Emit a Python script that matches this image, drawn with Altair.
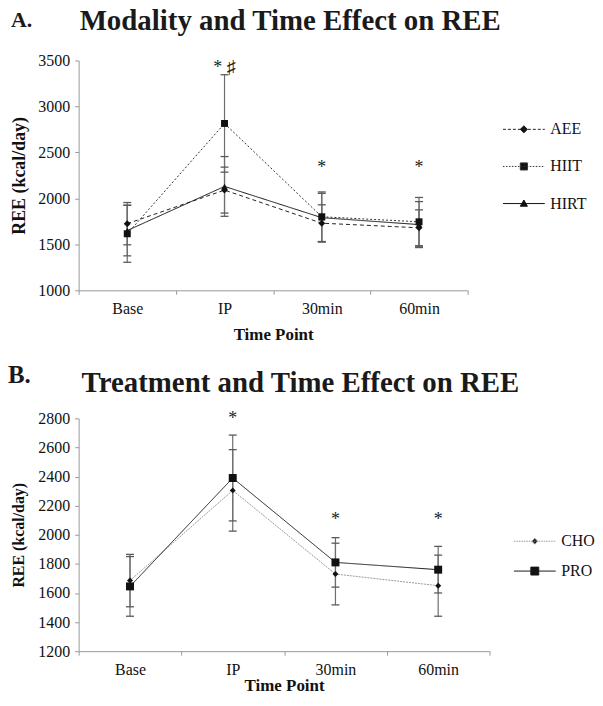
import altair as alt
import pandas as pd

# ---------------- data ----------------
times = ["Base", "IP", "30min", "60min"]

a_series = ["AEE", "HIIT", "HIRT"]
a_aee = [1725, 2090, 1730, 1680]
a_aee_sd = [230, 250, 200, 195]
a_hiit = [1615, 2815, 1800, 1745]
a_hiit_sd = [310, 530, 270, 265]
a_hirt = [1650, 2130, 1790, 1715]
a_hirt_sd = [275, 325, 265, 250]

a_sig_times = ["IP", "30min", "60min"]
a_sig_text = ["* \u266F", "*", "*"]
a_sig_y = [3359, 2277, 2277]

b_series = ["CHO", "PRO"]
b_cho = [1685, 2305, 1730, 1650]
b_cho_sd = [180, 280, 212, 210]
b_pro = [1645, 2390, 1810, 1760]
b_pro_sd = [205, 295, 170, 160]

b_sig_times = ["IP", "30min", "60min"]
b_sig_text = ["*", "*", "*"]
b_sig_y = [2764, 2066, 2066]

a_yticks = [1000, 1500, 2000, 2500, 3000, 3500]
b_yticks = [1200, 1400, 1600, 1800, 2000, 2200, 2400, 2600, 2800]

SERIF = "Liberation Serif"


def long_df(series, means, sds):
    rows = []
    for s, m, sd in zip(series, means, sds):
        for t, v, e in zip(times, m, sd):
            rows.append({"series": s, "time": t, "mean": v, "lo": v - e, "hi": v + e})
    return pd.DataFrame(rows)


df_a = long_df(a_series, [a_aee, a_hiit, a_hirt], [a_aee_sd, a_hiit_sd, a_hirt_sd])
df_b = long_df(b_series, [b_cho, b_pro], [b_cho_sd, b_pro_sd])
sig_a = pd.DataFrame({"time": a_sig_times, "txt": a_sig_text, "y": a_sig_y})
sig_b = pd.DataFrame({"time": b_sig_times, "txt": b_sig_text, "y": b_sig_y})


# ---------------- legend symbol paths (line sample + marker) ----------------
R = 21.0  # half width of legend symbol in px (symbolSize = (2R)^2)


def line_path(dash, gap):
    if dash is None:
        return "M-1,0L1,0"
    segs = []
    pos = -R
    while pos < R:
        end = min(pos + dash, R)
        segs.append(f"M{pos / R:.3f},0L{end / R:.3f},0")
        pos = end + gap
    return "".join(segs)


def marker_path(kind, h):
    if kind == "diamond":
        return f"M0,{-h:.3f}L{h:.3f},0L0,{h:.3f}L{-h:.3f},0Z"
    if kind == "square":
        return f"M{-h:.3f},{-h:.3f}L{h:.3f},{-h:.3f}L{h:.3f},{h:.3f}L{-h:.3f},{h:.3f}Z"
    return f"M0,{-h:.3f}L{h:.3f},{h * 0.75:.3f}L{-h:.3f},{h * 0.75:.3f}Z"


def panel(df, sig, series, dashes, legend_dash, line_colors, markers, msizes, legend_marker_h,
          ydomain, yticks, w, h, ytitle_size, ytitle_x, xtitle_y, letter, letter_size, letter_xy,
          title, title_xy, legend_xy, legend_row_pad, leg_stroke):
    xenc = alt.X(
        "time:N", sort=times,
        scale=alt.Scale(type="band", domain=times, paddingInner=0, paddingOuter=0),
        axis=alt.Axis(
            title="Time Point", tickBand="extent", labelAngle=0,
            labelFont=SERIF, labelFontSize=16, labelColor="#111", labelPadding=6,
            tickSize=4, tickColor="#999", domainColor="#999",
            titleFont=SERIF, titleFontSize=17, titleFontWeight="bold", titleColor="#111",
            titleY=xtitle_y, titleX=w / 2, titleBaseline="alphabetic", titleAlign="center",
            grid=False,
        ),
    )
    yscale = alt.Scale(domain=ydomain, nice=False, zero=False)
    yaxis = alt.Axis(
        values=yticks, title="REE (kcal/day)", format="d",
        labelFont=SERIF, labelFontSize=16, labelColor="#111", labelPadding=5,
        tickSize=4, tickColor="#999", domainColor="#999", grid=False,
        titleFont=SERIF, titleFontSize=ytitle_size, titleFontWeight="bold", titleColor="#111",
        titleAngle=270, titleX=ytitle_x, titleY=h / 2, titleBaseline="alphabetic", titleAlign="center",
    )
    base = alt.Chart(df)
    rules = base.mark_rule(color="#6e6e6e", strokeWidth=1.2).encode(
        x=xenc, y=alt.Y("lo:Q", scale=yscale, axis=yaxis), y2="hi:Q")
    cap_lo = base.mark_tick(orient="horizontal", size=8, thickness=1.3, color="#5a5a5a", opacity=1).encode(
        x=xenc, y=alt.Y("lo:Q", scale=yscale, axis=yaxis))
    cap_hi = base.mark_tick(orient="horizontal", size=8, thickness=1.3, color="#5a5a5a", opacity=1).encode(
        x=xenc, y=alt.Y("hi:Q", scale=yscale, axis=yaxis))
    layers = [rules, cap_lo, cap_hi]
    for s, c, d in zip(series, line_colors, dashes):
        layers.append(
            base.transform_filter(alt.datum.series == s)
            .mark_line(color=c, strokeDash=d, strokeWidth=1)
            .encode(x=xenc, y=alt.Y("mean:Q", scale=yscale, axis=yaxis))
        )
    for s, mk, sz in zip(series, markers, msizes):
        layers.append(
            base.transform_filter(alt.datum.series == s)
            .mark_point(shape=mk, size=sz, filled=True, color="#111", opacity=1)
            .encode(x=xenc, y=alt.Y("mean:Q", scale=yscale, axis=yaxis))
        )
    sigs = alt.Chart(sig).mark_text(font=SERIF, fontSize=18, color="#222", baseline="alphabetic").encode(
        x=xenc, y=alt.Y("y:Q", scale=yscale, axis=yaxis), text="txt:N")
    layers.append(sigs)

    # legend: Vega-Lite legend with custom line+marker symbols
    paths = [line_path(*ld) + marker_path(mk, legend_marker_h[i])
             for i, (ld, mk) in enumerate(zip(legend_dash, markers))]
    leg = alt.Legend(orient="none", legendX=legend_xy[0], legendY=legend_xy[1], title=None,
                     labelFont=SERIF, labelFontSize=16, labelColor="#111", labelOffset=5,
                     symbolSize=(2 * R) ** 2, symbolStrokeWidth=1, rowPadding=legend_row_pad)
    legend_layer = base.transform_filter("false").mark_point(filled=True, opacity=1).encode(
        shape=alt.Shape("series:N", scale=alt.Scale(domain=series, range=paths), legend=leg),
        fill=alt.Fill("series:N", scale=alt.Scale(domain=series, range=["#111"] * len(series)), legend=leg),
        stroke=alt.Stroke("series:N", scale=alt.Scale(domain=series, range=leg_stroke), legend=leg),
    )
    layers.append(legend_layer)

    letter_layer = alt.Chart(pd.DataFrame({"t": [letter]})).mark_text(
        font=SERIF, fontSize=letter_size, fontWeight="bold", color="#1a1a1a", align="left",
        baseline="alphabetic").encode(text="t:N", x=alt.value(letter_xy[0]), y=alt.value(letter_xy[1]))
    title_layer = alt.Chart(pd.DataFrame({"t": [title]})).mark_text(
        font=SERIF, fontSize=29, fontWeight="bold", color="#1a1a1a", align="left",
        baseline="alphabetic").encode(text="t:N", x=alt.value(title_xy[0]), y=alt.value(title_xy[1]))
    layers += [letter_layer, title_layer]
    return alt.layer(*layers).properties(width=w, height=h)


chart_a = panel(
    df_a, sig_a, a_series,
    dashes=[[4, 3], [2, 2], [1, 0]],
    legend_dash=[(3, 2), (1.5, 1.5), (None, None)],
    line_colors=["#222", "#333", "#111"],
    markers=["diamond", "square", "triangle-up"], msizes=[49, 49, 40],
    legend_marker_h=[0.17, 0.17, 0.17],
    ydomain=[1000, 3500], yticks=a_yticks, w=391, h=231,
    ytitle_size=18, ytitle_x=-54, xtitle_y=49.5,
    letter="A.", letter_size=22, letter_xy=(-68, -34),
    title="Modality and Time Effect on REE", title_xy=(1, -30.5),
    legend_xy=(426, 47.7), legend_row_pad=7.3, leg_stroke=["#222", "#333", "#111"],
)

chart_b = panel(
    df_b, sig_b, b_series,
    dashes=[[2, 1], [1, 0]],
    legend_dash=[(1.5, 1), (None, None)],
    line_colors=["#9a9a9a", "#1a1a1a"],
    markers=["diamond", "square"], msizes=[36, 64],
    legend_marker_h=[0.14, 0.19],
    ydomain=[1200, 2800], yticks=b_yticks, w=413, h=234,
    ytitle_size=16, ytitle_x=-55.5, xtitle_y=40,
    letter="B.", letter_size=25, letter_xy=(-71, -35.7),
    title="Treatment and Time Effect on REE", title_xy=(3, -26.7),
    legend_xy=(437, 102), legend_row_pad=0, leg_stroke=["#9a9a9a", "#1a1a1a"],
)

chart = alt.vconcat(chart_a, chart_b, spacing=128.7, bounds="flush").resolve_scale(
    x="independent", y="independent", shape="independent", fill="independent", stroke="independent"
).resolve_legend(
    shape="independent", fill="independent", stroke="independent"
).properties(
    padding={"left": 0, "top": -3, "right": 0, "bottom": -3.5}
).configure_view(stroke=None)

chart.save("out.html", embed_options={"renderer": "svg", "actions": False})
